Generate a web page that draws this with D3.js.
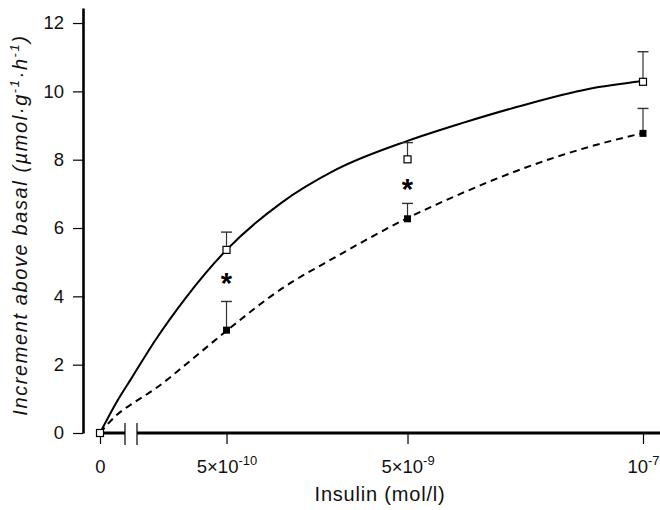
<!DOCTYPE html>
<html>
<head>
<meta charset="utf-8">
<script src="https://cdn.jsdelivr.net/npm/d3@7"></script>
<style>
  body { margin: 0; background: #fff; }
  svg { display: block; font-family: "Liberation Sans", Arial, sans-serif; }
</style>
</head>
<body>
<div class="chart"></div>
<script>
// insulin concentrations (mol/l); 0 is drawn at the left end of the log axis
const conc = [0, 5e-10, 5e-9, 1e-7];
const controlMean = [0, 5.36, 8.01, 10.28];
const controlSem = [0, 0.52, 0.49, 0.88];
const treatedMean = [0, 3.01, 6.27, 8.77];
const treatedSem = [0, 0.84, 0.45, 0.73];

// significance markers
const starConc = [5e-10, 5e-9];
const starValue = [4.57, 7.31];

// fitted curves
const fitConc = [0, 1.25e-10, 1.5e-10, 2e-10, 3e-10, 5e-10, 1e-9, 2e-9, 5e-9, 1e-8, 2e-8, 5e-8, 1e-7];
const fitControl = [0, 0.95, 1.62, 2.68, 3.98, 5.36, 6.73, 7.70, 8.55, 9.07, 9.54, 10.07, 10.30];
const fitTreated = [0, 0.55, 0.85, 1.28, 2.02, 2.99, 4.21, 5.15, 6.29, 7.02, 7.67, 8.37, 8.78];

const yTicks = [0, 2, 4, 6, 8, 10, 12];
const xTickConc = [0, 5e-10, 5e-9, 1e-7];
const xTickBase = ["0", "5×10", "5×10", "10"];
const xTickExp = ["", "-10", "-9", "-7"];

const width = 660, height = 510;
const zeroConc = 1e-10;

const svg = d3.select(".chart").append("svg")
  .attr("width", width)
  .attr("height", height)
  .attr("viewBox", `0 0 ${width} ${height}`);

const xScale = d3.scaleLog().domain([zeroConc, 1e-7]).range([100, 643]);
const yScale = d3.scaleLinear().domain([0, 12.44]).range([433, 8]);
const xPos = c => xScale(c === 0 ? zeroConc : c);

// y axis
const yAxis = d3.axisLeft(yScale)
  .tickValues(yTicks)
  .tickSize(10)
  .tickSizeOuter(0)
  .tickPadding(9);

const yAxisGroup = svg.append("g")
  .attr("transform", "translate(83,0)")
  .call(yAxis);
yAxisGroup.select(".domain").attr("stroke-width", 2.6);
yAxisGroup.selectAll(".tick line").attr("stroke-width", 1.2);
yAxisGroup.selectAll(".tick text")
  .attr("font-size", 18.5)
  .attr("font-family", "Liberation Sans, Arial, sans-serif")
  .attr("fill", "#111");

// x axis (broken near zero)
const xAxis = d3.axisBottom(xScale)
  .tickValues(xTickConc.map(c => c === 0 ? zeroConc : c))
  .tickSize(11)
  .tickSizeOuter(0)
  .tickFormat("");

const xAxisGroup = svg.append("g")
  .attr("transform", `translate(0,${yScale(0)})`)
  .call(xAxis);
xAxisGroup.select(".domain").remove();
xAxisGroup.selectAll(".tick line").attr("stroke-width", 1.2);

xAxisGroup.selectAll(".tick").each(function (d, i) {
  const t = d3.select(this).append("text")
    .attr("y", 40)
    .attr("fill", "#111")
    .attr("text-anchor", "middle")
    .attr("font-family", "Liberation Sans, Arial, sans-serif")
    .attr("font-size", 18.5);
  t.append("tspan").text(xTickBase[i]);
  if (xTickExp[i]) {
    t.append("tspan")
      .attr("font-size", 13)
      .attr("dy", -8)
      .text(xTickExp[i]);
  }
});

const axisY = yScale(0);
svg.append("line")
  .attr("x1", 97).attr("x2", 125)
  .attr("y1", axisY).attr("y2", axisY)
  .attr("stroke", "#000").attr("stroke-width", 3);
svg.append("line")
  .attr("x1", 137).attr("x2", width)
  .attr("y1", axisY).attr("y2", axisY)
  .attr("stroke", "#000").attr("stroke-width", 3);
[125, 137].forEach(bx => {
  svg.append("line")
    .attr("x1", bx).attr("x2", bx)
    .attr("y1", axisY - 10).attr("y2", axisY + 12)
    .attr("stroke", "#000").attr("stroke-width", 1.2);
});

// axis titles
svg.append("text")
  .attr("x", 380)
  .attr("y", 501)
  .attr("text-anchor", "middle")
  .attr("font-size", 20)
  .attr("letter-spacing", 0.8)
  .attr("fill", "#111")
  .text("Insulin (mol/l)");

const yTitle = svg.append("text")
  .attr("transform", `translate(27,${225}) rotate(-90)`)
  .attr("text-anchor", "middle")
  .attr("font-size", 20)
  .attr("letter-spacing", 1.6)
  .attr("font-style", "italic")
  .attr("fill", "#111");
yTitle.append("tspan").text("Increment above basal (µmol·g");
yTitle.append("tspan").attr("font-size", 13).attr("dy", -8).text("-1");
yTitle.append("tspan").attr("dy", 8).text("·h");
yTitle.append("tspan").attr("font-size", 13).attr("dy", -8).text("-1");
yTitle.append("tspan").attr("dy", 8).text(")");

// fitted curves
const line = values => d3.line()
  .x((d, i) => xPos(fitConc[i]))
  .y(d => yScale(d))
  .curve(d3.curveMonotoneX)(values);

svg.append("path")
  .attr("d", line(fitControl))
  .attr("fill", "none")
  .attr("stroke", "#000")
  .attr("stroke-width", 2);

svg.append("path")
  .attr("d", line(fitTreated))
  .attr("fill", "none")
  .attr("stroke", "#000")
  .attr("stroke-width", 2)
  .attr("stroke-dasharray", "7,5");

// error bars (upward only)
const capHalf = 5.5;
function drawErrors(means, sems, cls) {
  const g = svg.append("g").attr("class", cls);
  conc.forEach((c, i) => {
    if (!sems[i]) return;
    const cx = xPos(c);
    g.append("line")
      .attr("x1", cx).attr("x2", cx)
      .attr("y1", yScale(means[i])).attr("y2", yScale(means[i] + sems[i]))
      .attr("stroke", "#333").attr("stroke-width", 1.2);
    g.append("line")
      .attr("x1", cx - capHalf).attr("x2", cx + capHalf)
      .attr("y1", yScale(means[i] + sems[i])).attr("y2", yScale(means[i] + sems[i]))
      .attr("stroke", "#333").attr("stroke-width", 1.4);
  });
}
drawErrors(treatedMean, treatedSem, "err-treated");
drawErrors(controlMean, controlSem, "err-control");

// squares
const sq = 7;
svg.append("g").selectAll("rect")
  .data(treatedMean)
  .enter().append("rect")
  .attr("x", (d, i) => xPos(conc[i]) - sq / 2)
  .attr("y", d => yScale(d) - sq / 2)
  .attr("width", sq)
  .attr("height", sq)
  .attr("fill", "#000");

svg.append("g").selectAll("rect")
  .data(controlMean)
  .enter().append("rect")
  .attr("x", (d, i) => xPos(conc[i]) - sq / 2)
  .attr("y", d => yScale(d) - sq / 2)
  .attr("width", sq)
  .attr("height", sq)
  .attr("fill", "#fff")
  .attr("stroke", "#000")
  .attr("stroke-width", 1.2);

// asterisks
svg.append("g").selectAll("text")
  .data(starValue)
  .enter().append("text")
  .attr("x", (d, i) => xPos(starConc[i]))
  .attr("y", d => yScale(d) + 16)
  .attr("text-anchor", "middle")
  .attr("font-size", 29)
  .attr("font-weight", "bold")
  .attr("fill", "#000")
  .text("*");
</script>
</body>
</html>
